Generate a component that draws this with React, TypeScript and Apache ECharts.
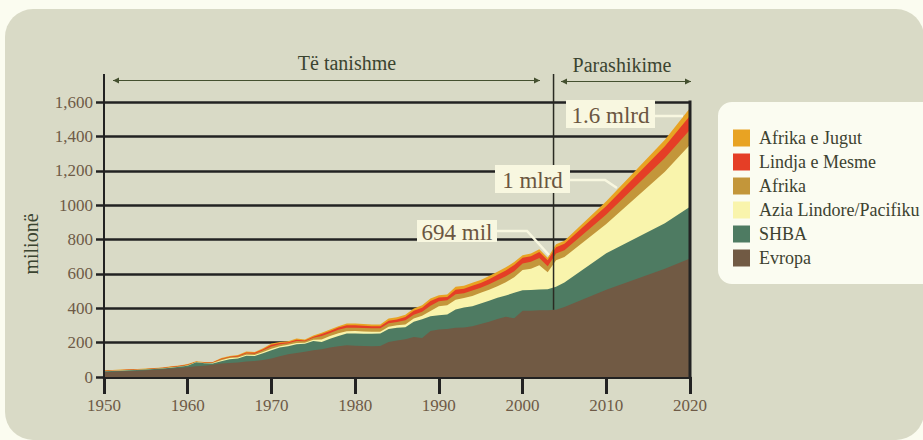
import React, { useEffect, useRef } from 'react';
import * as echarts from 'echarts';

const FONT = '"Liberation Serif", "DejaVu Serif", serif';

const years = [
  1950, 1951, 1952, 1953, 1954, 1955, 1956, 1957, 1958, 1959,
  1960, 1961, 1962, 1963, 1964, 1965, 1966, 1967, 1968, 1969,
  1970, 1971, 1972, 1973, 1974, 1975, 1976, 1977, 1978, 1979,
  1980, 1981, 1982, 1983, 1984, 1985, 1986, 1987, 1988, 1989,
  1990, 1991, 1992, 1993, 1994, 1995, 1996, 1997, 1998, 1999,
  2000, 2001, 2002, 2003,
  2004, 2005, 2010, 2017, 2020,
];

const evropa = [
  29, 31, 33, 35, 37, 39, 42, 45, 49, 52,
  57, 62, 66, 72, 78, 82, 85, 90, 93, 99,
  107, 121, 133, 140, 147, 156, 162, 172, 179, 185,
  182, 180, 179, 180, 204, 212, 220, 233, 227, 268,
  276, 280, 286, 288, 296, 308, 322, 338, 350, 342,
  385, 385, 388, 389,
  392, 407, 508, 630, 690,
];

const shba = [
  4, 4, 4, 4, 4, 4, 4, 4, 5, 7,
  9, 24, 14, 7, 14, 21, 22, 34, 29, 39,
  49, 50, 46, 50, 47, 54, 42, 50, 60, 68,
  71, 72, 73, 73, 76, 75, 70, 88, 109, 86,
  84, 84, 107, 117, 116, 120, 121, 123, 124, 148,
  120, 121, 121, 121,
  133, 143, 212, 264, 301,
];

const azia = [
  1, 1, 1, 1, 1, 1, 1, 1, 1, 1,
  1, 1, 1, 2, 6, 7, 7, 6, 6, 8,
  8, 8, 8, 8, 6, 7, 14, 16, 16, 13,
  14, 13, 12, 11, 13, 14, 16, 19, 20, 30,
  52, 54, 56, 55, 60, 62, 65, 67, 77, 90,
  117, 124, 141, 100,
  155, 148, 170, 300, 360,
];

const afrika = [
  2, 2, 2, 2, 2, 2, 3, 3, 3, 3,
  4, 1, 2, 3, 5, 5, 6, 8, 8, 9,
  14, 11, 9, 11, 8, 11, 20, 18, 20, 21,
  20, 20, 19, 19, 20, 19, 24, 22, 24, 31,
  29, 28, 32, 28, 31, 29, 32, 35, 35, 36,
  39, 40, 42, 35,
  38, 40, 55, 80, 88,
];

const lindja = [
  1, 1, 1, 1, 1, 1, 1, 1, 2, 2,
  2, 1, 2, 2, 3, 3, 4, 5, 5, 6,
  10, 8, 6, 8, 5, 6, 12, 12, 13, 14,
  14, 13, 13, 12, 15, 15, 19, 23, 23, 27,
  21, 20, 27, 26, 28, 28, 29, 32, 34, 36,
  33, 33, 35, 35,
  37, 38, 50, 68, 81,
];

const jugut = [
  2, 2, 2, 2, 2, 2, 2, 2, 2, 2,
  3, 2, 2, 2, 4, 4, 4, 5, 5, 7,
  7, 6, 6, 7, 5, 7, 7, 8, 8, 10,
  10, 10, 10, 10, 12, 12, 13, 14, 15, 15,
  14, 14, 17, 17, 17, 17, 18, 17, 18, 17,
  15, 16, 16, 14,
  17, 17, 27, 38, 45,
];

// bottom -> top stacking order
const seriesNames = ['Evropa', 'SHBA', 'Azia Lindore/Pacifiku', 'Afrika', 'Lindja e Mesme', 'Afrika e Jugut'];
const seriesValues = [evropa, shba, azia, afrika, lindja, jugut];
const seriesColors = ['#715a44', '#4e7b62', '#f9f4ac', '#c3963a', '#e53e26', '#e8a323'];
const legendOrder = ['Afrika e Jugut', 'Lindja e Mesme', 'Afrika', 'Azia Lindore/Pacifiku', 'SHBA', 'Evropa'];
const yTickLabels = ['0', '200', '400', '600', '800', '1000', '1,200', '1,400', '1,600'];
const periodLabels = ['Të tanishme', 'Parashikime'];
const yAxisName = 'milionë';
const callouts = ['694 mil', '1 mlrd', '1.6 mlrd'];
const forecastStart = 2003.7;

export default function App() {
  const ref = useRef<HTMLDivElement>(null);

  useEffect(() => {
    if (!ref.current) return;
    const chart = echarts.init(ref.current, undefined, { renderer: 'svg' });

    // cumulative stacking (value x-axis): layer i is drawn from 0 up to the sum of layers 0..i,
    // upper layers are drawn first so lower ones sit on top of them.
    const cumulative: number[][] = [];
    seriesValues.forEach((vals, i) => {
      cumulative.push(vals.map((v, k) => v + (i > 0 ? cumulative[i - 1][k] : 0)));
    });
    const order = seriesNames.map((_, i) => i).reverse();

    const option: any = {
      animation: false,
      grid: { left: 104, right: 233, top: 102, bottom: 63, containLabel: false },
      xAxis: {
        type: 'value',
        min: 1950,
        max: 2020,
        interval: 10,
        axisLine: { show: true, lineStyle: { color: '#222', width: 3 } },
        axisTick: { show: true, length: 17, lineStyle: { color: '#222', width: 3 } },
        axisLabel: {
          color: '#6e5a46',
          fontFamily: FONT,
          fontSize: 17,
          margin: 20,
          formatter: (v: number) => String(v),
        },
        splitLine: { show: false },
      },
      yAxis: {
        type: 'value',
        min: 0,
        max: 1600,
        interval: 200,
        axisLine: { show: false },
        axisTick: { show: true, length: 8, lineStyle: { color: '#222', width: 2.5 } },
        axisLabel: {
          color: '#6e5a46',
          fontFamily: FONT,
          fontSize: 17,
          margin: 11,
          formatter: (v: number) => yTickLabels[Math.round(v / 200)] ?? '',
        },
        splitLine: { show: true, lineStyle: { color: '#222', width: 2.5 } },
      },
      legend: {
        orient: 'vertical',
        left: 718,
        top: 102,
        padding: [27, 40, 17, 15],
        itemWidth: 17,
        itemHeight: 17,
        itemGap: 6,
        icon: 'rect',
        selectedMode: false,
        backgroundColor: '#fbfcf1',
        borderRadius: 14,
        textStyle: { fontFamily: FONT, fontSize: 18, color: '#3d4230', padding: [0, 0, 0, 4] },
        data: legendOrder,
      },
      series: order.map((i) => ({
        name: seriesNames[i],
        type: 'line',
        symbol: 'none',
        showSymbol: false,
        z: 2 + (seriesNames.length - i),
        lineStyle: { width: 0 },
        itemStyle: { color: seriesColors[i] },
        areaStyle: { color: seriesColors[i], opacity: 1 },
        data: years.map((y, k) => [y, cumulative[i][k]]),
      })),
    };
    chart.setOption(option);

    const p = (x: number, y: number) => chart.convertToPixel({ gridIndex: 0 }, [x, y]) as number[];
    const [x0, yb] = p(1950, 0);
    const [x20, yTop] = p(2020, 1600);
    const brownAtStart = 391;
    const [xs, ys] = p(forecastStart, brownAtStart);

    const arrowColor = '#44502f';
    const arrow = (a: number, b: number, y: number) => [
      { type: 'line', z: 20, shape: { x1: a, y1: y, x2: b, y2: y }, style: { stroke: arrowColor, lineWidth: 1.2 } },
      { type: 'polygon', z: 20, shape: { points: [[a, y], [a + 6, y - 3], [a + 6, y + 3]] }, style: { fill: arrowColor } },
      { type: 'polygon', z: 20, shape: { points: [[b, y], [b - 6, y - 3], [b - 6, y + 3]] }, style: { fill: arrowColor } },
    ];

    const boxFill = '#f8f7e0';
    const callout = (label: string, x: number, y: number, w: number, h: number, leader: number[][]) => [
      { type: 'polyline', z: 20, shape: { points: leader }, style: { stroke: boxFill, lineWidth: 2.5, fill: null } },
      { type: 'rect', z: 21, shape: { x, y, width: w, height: h }, style: { fill: boxFill } },
      {
        type: 'text', z: 22, x: x + w / 2, y: y + h / 2 + 1,
        style: { text: label, fontFamily: FONT, fontSize: 23, fill: '#6b5641', align: 'center', verticalAlign: 'middle' },
      },
    ];

    const graphic: any[] = [
      { type: 'line', z: 15, shape: { x1: x0, y1: 74, x2: x0, y2: yb + 1 }, style: { stroke: '#222', lineWidth: 2 } },
      { type: 'line', z: 15, shape: { x1: x20, y1: yTop - 1.5, x2: x20, y2: yb }, style: { stroke: '#222', lineWidth: 3 } },
      { type: 'line', z: 15, shape: { x1: xs, y1: 74, x2: xs, y2: ys }, style: { stroke: '#2a2a22', lineWidth: 1.5 } },
      ...arrow(113, 540, 80.5),
      ...arrow(561, 691, 81.5),
      {
        type: 'text', z: 20, x: 347, y: 63,
        style: { text: periodLabels[0], fontFamily: FONT, fontSize: 20, fill: '#3b4430', align: 'center', verticalAlign: 'middle' },
      },
      {
        type: 'text', z: 20, x: 622, y: 65,
        style: { text: periodLabels[1], fontFamily: FONT, fontSize: 20, fill: '#3b4430', align: 'center', verticalAlign: 'middle' },
      },
      {
        type: 'text', z: 20, x: 31, y: 244, rotation: Math.PI / 2,
        style: { text: yAxisName, fontFamily: FONT, fontSize: 20, fill: '#3b4430', align: 'center', verticalAlign: 'middle' },
      },
      ...callout(callouts[0], 417, 220, 80, 22, [[497, 231], [527, 231], [549, 255]]),
      ...callout(callouts[1], 495, 165, 75, 28, [[570, 180], [605, 180], [617, 188]]),
      ...callout(callouts[2], 566, 100, 89, 28, [[655, 116], [683, 116]]),
    ];
    chart.setOption({ graphic });

    return () => chart.dispose();
  }, []);

  return (
    <div style={{ position: 'fixed', left: 0, top: 0, width: 923, height: 440, background: '#fbfcf0', overflow: 'hidden' }}>
      <div style={{ position: 'absolute', left: 5, top: 9, width: 919, height: 431, borderRadius: 28, background: '#d9dac6' }} />
      <div ref={ref} style={{ position: 'absolute', left: 0, top: 0, width: 923, height: 440 }} />
    </div>
  );
}
